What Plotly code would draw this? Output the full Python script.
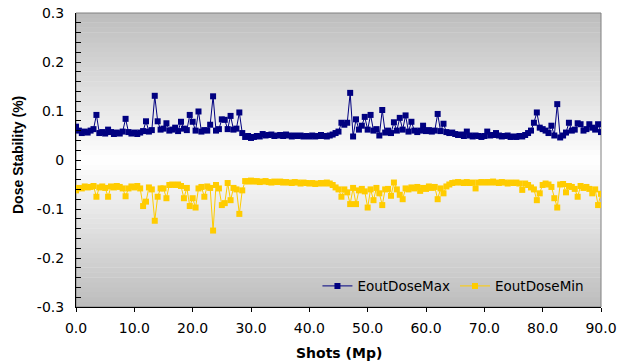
import plotly.graph_objects as go

# EoutDoseMax values (every 0.5 Mp from 0 to 90)
dose_max = [
    0.068, 0.060, 0.055, 0.058, 0.056, 0.060, 0.063, 0.092, 0.055, 0.057,
    0.054, 0.062, 0.057, 0.053, 0.056, 0.054, 0.058, 0.084, 0.057, 0.054,
    0.056, 0.053, 0.056, 0.059, 0.079, 0.058, 0.061, 0.131, 0.079, 0.062,
    0.064, 0.075, 0.060, 0.062, 0.066, 0.059, 0.078, 0.064, 0.061, 0.092,
    0.078, 0.060, 0.099, 0.058, 0.061, 0.060, 0.072, 0.130, 0.060, 0.063,
    0.083, 0.082, 0.063, 0.090, 0.062, 0.064, 0.097, 0.055, 0.047, 0.049,
    0.045, 0.047, 0.049, 0.048, 0.053, 0.050, 0.051, 0.052, 0.049, 0.050,
    0.051, 0.049, 0.052, 0.050, 0.048, 0.050, 0.049, 0.050, 0.048, 0.049,
    0.048, 0.050, 0.048, 0.049, 0.051, 0.049, 0.048, 0.050, 0.052, 0.055,
    0.058, 0.076, 0.072, 0.076, 0.137, 0.048, 0.083, 0.062, 0.070, 0.088,
    0.062, 0.092, 0.060, 0.063, 0.050, 0.102, 0.056, 0.060, 0.055, 0.077,
    0.060, 0.086, 0.062, 0.091, 0.058, 0.078, 0.060, 0.057, 0.060, 0.070,
    0.059, 0.061, 0.058, 0.060, 0.094, 0.059, 0.074, 0.057, 0.055, 0.056,
    0.053, 0.051, 0.052, 0.049, 0.058, 0.050, 0.048, 0.050, 0.049, 0.047,
    0.049, 0.058, 0.050, 0.051, 0.055, 0.050, 0.048, 0.049, 0.050, 0.047,
    0.048, 0.047, 0.049, 0.048, 0.051, 0.055, 0.060, 0.076, 0.097, 0.066,
    0.063, 0.060, 0.055, 0.070, 0.050, 0.114, 0.046, 0.050, 0.056, 0.076,
    0.060, 0.062, 0.075, 0.073, 0.060, 0.063, 0.073, 0.066, 0.062, 0.073,
    0.057,
]

# EoutDoseMin values (every 0.5 Mp from 0 to 90)
dose_min = [
    -0.062, -0.057, -0.058, -0.054, -0.056, -0.055, -0.053, -0.075, -0.056, -0.054,
    -0.057, -0.075, -0.054, -0.056, -0.053, -0.055, -0.058, -0.074, -0.058, -0.054,
    -0.056, -0.053, -0.058, -0.094, -0.085, -0.056, -0.060, -0.124, -0.075, -0.058,
    -0.058, -0.078, -0.051, -0.050, -0.051, -0.050, -0.053, -0.078, -0.057, -0.094,
    -0.078, -0.097, -0.058, -0.055, -0.075, -0.054, -0.057, -0.144, -0.051, -0.058,
    -0.092, -0.088, -0.047, -0.082, -0.057, -0.060, -0.110, -0.062, -0.043, -0.044,
    -0.042, -0.044, -0.043, -0.045, -0.044, -0.043, -0.045, -0.046, -0.044, -0.045,
    -0.044, -0.046, -0.045, -0.046, -0.047, -0.045, -0.046, -0.048, -0.046, -0.047,
    -0.048, -0.047, -0.049, -0.048, -0.047, -0.048, -0.046, -0.048, -0.051, -0.056,
    -0.060, -0.075, -0.060, -0.066, -0.090, -0.057, -0.090, -0.062, -0.059, -0.064,
    -0.097, -0.060, -0.082, -0.057, -0.068, -0.092, -0.060, -0.059, -0.073, -0.046,
    -0.060, -0.071, -0.080, -0.058, -0.060, -0.056, -0.058, -0.055, -0.063, -0.057,
    -0.059, -0.054, -0.057, -0.055, -0.080, -0.058, -0.068, -0.054, -0.050, -0.047,
    -0.046, -0.045, -0.046, -0.047, -0.045, -0.047, -0.046, -0.058, -0.046, -0.045,
    -0.046, -0.045, -0.046, -0.044, -0.046, -0.047, -0.045, -0.046, -0.048, -0.046,
    -0.047, -0.046, -0.048, -0.061, -0.048, -0.051, -0.056, -0.060, -0.082, -0.068,
    -0.051, -0.048, -0.050, -0.055, -0.078, -0.097, -0.050, -0.049, -0.066, -0.053,
    -0.055, -0.059, -0.075, -0.053, -0.057, -0.055, -0.059, -0.068, -0.060, -0.092,
    -0.069,
]

shots = [i * 0.5 for i in range(len(dose_max))]

x_tick_vals = [0, 10, 20, 30, 40, 50, 60, 70, 80, 90]
x_tick_text = ["0.0", "10.0", "20.0", "30.0", "40.0", "50.0", "60.0", "70.0", "80.0", "90.0"]
y_tick_vals = [-0.3, -0.2, -0.1, 0, 0.1, 0.2, 0.3]
y_tick_text = ["-0.3", "-0.2", "-0.1", "0", "0.1", "0.2", "0.3"]

NAVY = "#000080"
GOLD = "#FFCC00"
TICK_FONT = dict(family="DejaVu Sans", size=14, color="#000000")

fig = go.Figure()
fig.add_trace(go.Scatter(
    x=shots, y=dose_max, mode="lines+markers", name="EoutDoseMax",
    line=dict(color=NAVY, width=1),
    marker=dict(symbol="square", size=6, color=NAVY, line=dict(width=0)),
))
fig.add_trace(go.Scatter(
    x=shots, y=dose_min, mode="lines+markers", name="EoutDoseMin",
    line=dict(color=GOLD, width=1),
    marker=dict(symbol="square", size=6, color=GOLD, line=dict(width=0)),
))

# gradient background: grey at top/bottom, white at zero
shapes = []
n_bands = 60
for k in range(n_bands):
    y0 = -0.3 + k * 0.6 / n_bands
    y1 = y0 + 0.6 / n_bands
    mid = abs((y0 + y1) / 2)
    g = int(round(255 - (255 - 188) * mid / 0.3))
    shapes.append(dict(
        type="rect", xref="paper", yref="y", x0=0, x1=1, y0=y0, y1=y1 + 0.0008,
        fillcolor=f"rgb({g},{g},{g})", line=dict(width=0), layer="below",
    ))
shapes.append(dict(
    type="rect", xref="paper", yref="paper", x0=0, x1=1, y0=0, y1=1,
    line=dict(color="#808080", width=1), fillcolor="rgba(0,0,0,0)", layer="below",
))

fig.update_layout(
    width=618, height=364,
    margin=dict(l=76, r=17, t=13, b=57, autoexpand=False),
    paper_bgcolor="#FFFFFF",
    plot_bgcolor="#FFFFFF",
    shapes=shapes,
    showlegend=True,
    legend=dict(
        orientation="h", x=0.978, xanchor="right", y=0.071, yanchor="middle",
        bgcolor="rgba(0,0,0,0)", font=dict(family="DejaVu Sans", size=13.5, color="#000000"),
        itemwidth=30, tracegroupgap=0,
    ),
    xaxis=dict(
        range=[0, 90], tickvals=x_tick_vals, ticktext=x_tick_text,
        ticks="outside", ticklen=4, tickcolor="#000000", tickwidth=1,
        showline=True, linecolor="#000000", linewidth=1,
        showgrid=False, zeroline=False, tickfont=TICK_FONT,
        ticklabelstandoff=4, automargin=False,
    ),
    yaxis=dict(
        range=[-0.3, 0.3], tickvals=y_tick_vals, ticktext=y_tick_text,
        ticks="inside", ticklen=5, tickcolor="#000000", tickwidth=1,
        minor=dict(dtick=0.02, tick0=0, ticks="inside", ticklen=5, tickcolor="#000000", showgrid=False),
        showline=True, linecolor="#000000", linewidth=1,
        showgrid=False, zeroline=False, tickfont=TICK_FONT,
        ticklabelstandoff=8, automargin=False,
    ),
    annotations=[
        dict(text="Shots (Mp)", xref="paper", yref="paper", x=0.501, y=-0.156,
             xanchor="center", yanchor="middle", showarrow=False,
             font=dict(family="DejaVu Sans", size=14, color="#000000", weight="bold")),
        dict(text="Dose Stability (%)", xref="paper", yref="paper", x=-0.1105, y=0.517,
             xanchor="center", yanchor="middle", showarrow=False, textangle=-90,
             font=dict(family="Liberation Sans", size=14, color="#000000", weight="bold")),
    ],
)

fig.write_html("out.html")
